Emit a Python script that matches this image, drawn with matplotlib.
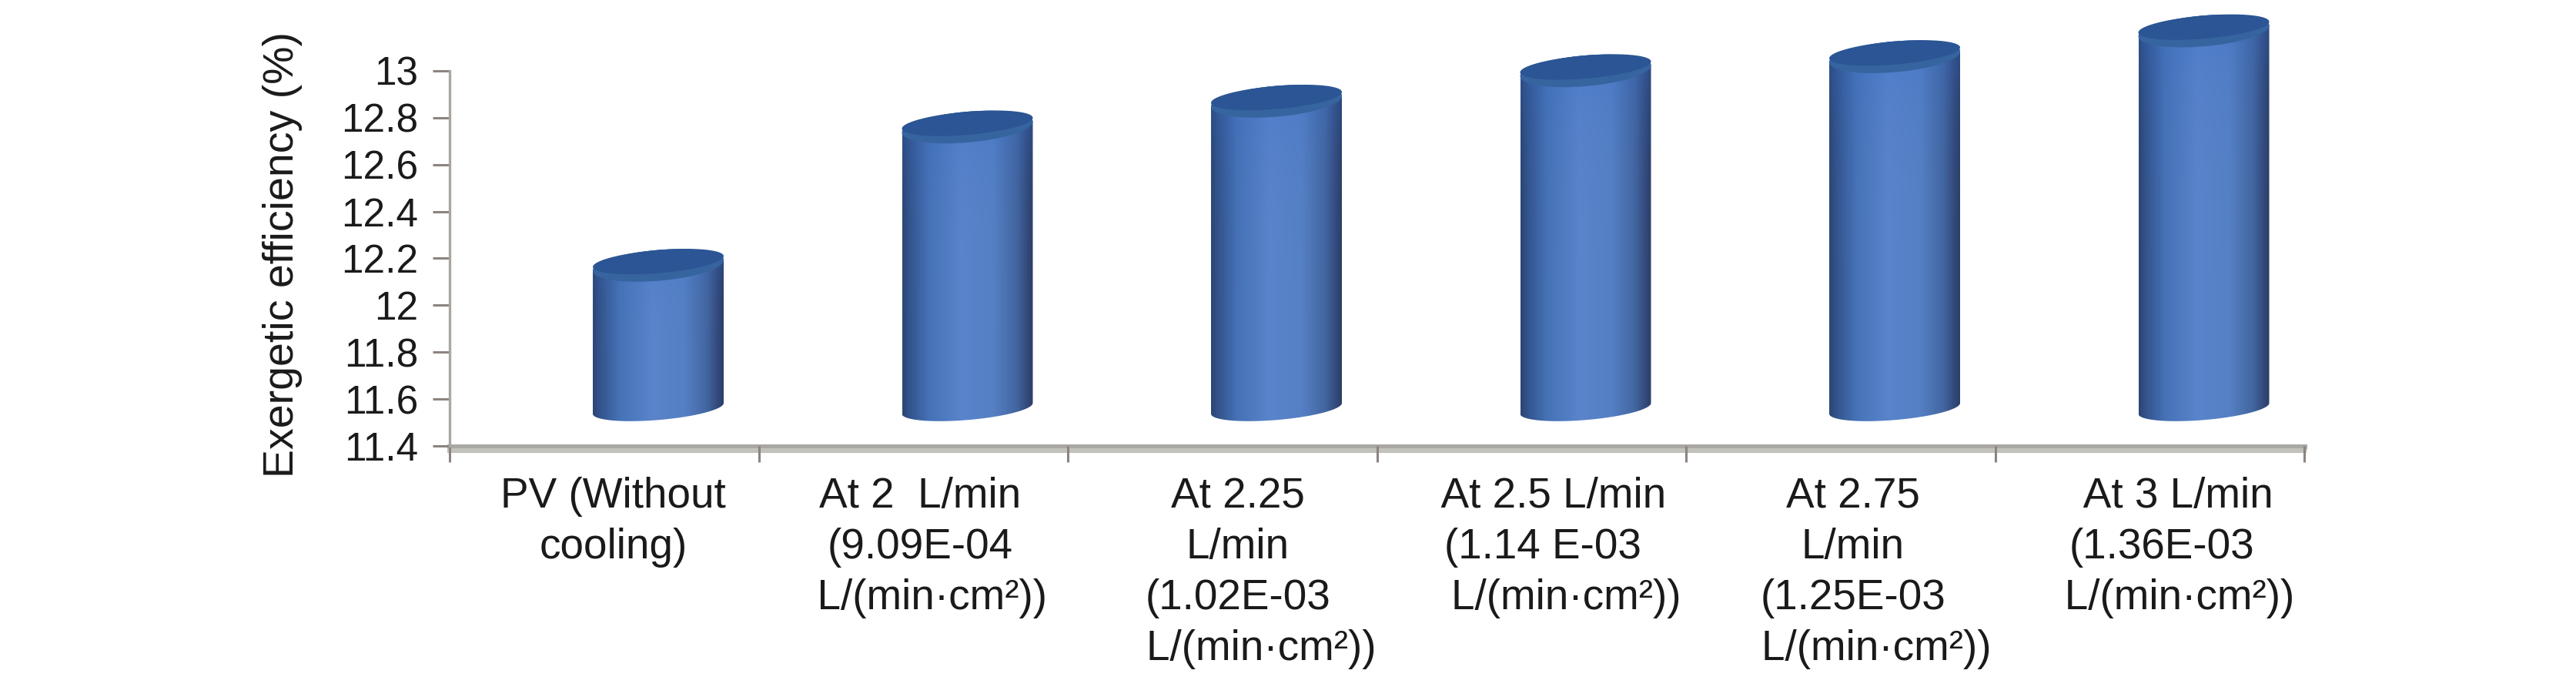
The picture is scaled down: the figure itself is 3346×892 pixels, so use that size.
"""Exergetic efficiency of the PV module at several cooling flow rates,
drawn as pseudo 3D cylinders."""

import numpy as np
import matplotlib
matplotlib.use('Agg')
import matplotlib.pyplot as plt
from matplotlib.colors import LinearSegmentedColormap
from matplotlib.patches import PathPatch
from matplotlib.path import Path

plt.rcParams['font.family'] = ['Liberation Sans', 'DejaVu Sans']

# ── Data ──────────────────────────────────────────────────────────────────────
categories = [
    'PV (Without\ncooling)',
    'At 2  L/min\n(9.09E-04\n  L/(min\u00b7cm\u00b2))',
    'At 2.25\nL/min\n(1.02E-03\n    L/(min\u00b7cm\u00b2))',
    '  At 2.5 L/min\n(1.14 E-03\n    L/(min\u00b7cm\u00b2))',
    'At 2.75\nL/min\n(1.25E-03\n    L/(min\u00b7cm\u00b2))',
    '   At 3 L/min\n(1.36E-03\n   L/(min\u00b7cm\u00b2))',
]
efficiency = [12.17, 12.76, 12.87, 13.00, 13.06, 13.17]
y_ticks = [11.4, 11.6, 11.8, 12, 12.2, 12.4, 12.6, 12.8, 13]
y_tick_labels = ['11.4', '11.6', '11.8', '12', '12.2', '12.4', '12.6', '12.8', '13']

# ── Layout (pixels of the 3346x892 canvas) ────────────────────────────────────
W, H = 3346, 892
AX_L, AX_R, AX_BOT, AX_TOP = 584, 2993, 579, 5
Y_MIN = 11.4
Y_MAX = Y_MIN + (AX_BOT - AX_TOP) / 304.4
PX_X = (AX_R - AX_L) / 6      # px per category
PX_Y = 304.4                  # px per percent

BASE = 11.56                  # the columns stand behind the axis plane
BAR_SHIFT = 0.175             # depth offset to the right
BAR_HALF = 85 / PX_X
CAP_B, CAP_S = 20, 7
FOOT_B, FOOT_S = 15, 7
LABEL_NUDGE = [12, 9, 20, 15, 16, 16]

body_cmap = LinearSegmentedColormap.from_list('body', [
    (0.00, '#2c4674'), (0.06, '#34558f'), (0.20, '#4672b6'), (0.45, '#5a84cb'),
    (0.70, '#5580c4'), (0.88, '#42659f'), (0.96, '#33497a'), (1.00, '#2b3f68')])


def ring(xc, yc, b_px, s_px, t):
    """Slanted ellipse points, left side lower than the right side."""
    x = xc + BAR_HALF * np.cos(t)
    y = yc + (b_px * np.sin(t) + s_px * np.cos(t)) / PX_Y
    return x, y


def draw_cylinder(ax, xc, value):
    t_front = np.linspace(np.pi, 2 * np.pi, 60)
    t_all = np.linspace(0, 2 * np.pi, 120)

    # silhouette: up the left side, along the back of the cap, round the base
    xb, yb = ring(xc, BASE, FOOT_B, FOOT_S, t_front)
    xt, yt = ring(xc, value, CAP_B, CAP_S, np.linspace(0, np.pi, 60))
    verts = np.vstack([np.column_stack([xb, yb]), np.column_stack([xt, yt]),
                       [[xb[0], yb[0]]]])
    clip = PathPatch(Path(verts), transform=ax.transData, fc='none', ec='none')
    ax.add_patch(clip)

    # horizontal shading, a little more saturated near the foot
    shade = body_cmap(np.linspace(0, 1, 200))[:, :3]
    rows = np.linspace(0, 1, 120)[:, None, None]
    foot = np.array([0.20, 0.42, 0.78])[None, None, :]
    img = shade[None, :, :] * (1 - 0.35 * rows ** 6) + foot * 0.35 * rows ** 6
    ymin, ymax = verts[:, 1].min(), verts[:, 1].max()
    im = ax.imshow(img, extent=(xc - BAR_HALF, xc + BAR_HALF, ymax, ymin),
                   origin='upper', aspect='auto', interpolation='bilinear', zorder=2)
    im.set_clip_path(clip)

    # cap: dark rim with a lighter front
    x_cap, y_cap = ring(xc, value, CAP_B, CAP_S, t_all)
    ax.fill(x_cap, y_cap, color='#36649f', lw=0, zorder=3)
    x_in, y_in = ring(xc, value + 5 / PX_Y, CAP_B - 5, CAP_S, t_all)
    ax.fill(x_in, y_in, color='#2b5594', lw=0, zorder=3)


fig = plt.figure(figsize=(W / 100, H / 100), dpi=100, facecolor='white')
ax = fig.add_axes([AX_L / W, 1 - AX_BOT / H, (AX_R - AX_L) / W, (AX_BOT - AX_TOP) / H])

for i, v in enumerate(efficiency):
    draw_cylinder(ax, i + 0.5 + BAR_SHIFT, v)

ax.set_xlim(0, len(categories))
ax.set_ylim(Y_MIN, Y_MAX)

for side in ('top', 'right'):
    ax.spines[side].set_visible(False)
ax.spines['left'].set_bounds(Y_MIN, 13)
ax.spines['left'].set_color('#aaa6a2')
ax.spines['left'].set_linewidth(2.4)
ax.spines['bottom'].set_visible(False)

# two tone floor line
ax.axhline(Y_MIN - 1 / PX_Y, color='#a9a7a2', lw=5, clip_on=False, zorder=1)
ax.axhline(Y_MIN - 6 / PX_Y, color='#c2c1bc', lw=4.5, clip_on=False, zorder=1)

ax.set_yticks(y_ticks)
ax.set_yticklabels(y_tick_labels)
ax.tick_params(axis='y', length=15.5, width=2.2, color='#8c8480', labelsize=37,
               pad=14, labelcolor='#1a1a1a')
ax.set_xticks(range(len(categories) + 1))
ax.set_xticklabels([])
ax.tick_params(axis='x', length=15, width=2.2, color='#8c8480')

for i, label in enumerate(categories):
    ax.annotate(label, xy=(i + 0.5, 0), xycoords=ax.get_xaxis_transform(),
                xytext=(LABEL_NUDGE[i] * 0.72, -29), textcoords='offset points',
                ha='center', va='top', multialignment='center',
                fontsize=39.5, linespacing=1.35, color='#1a1a1a')

ax.set_ylabel('Exergetic efficiency (%)', fontsize=40, color='#1a1a1a')
ax.yaxis.set_label_coords((393 - AX_L) / (AX_R - AX_L), (AX_BOT - 330) / (AX_BOT - AX_TOP))

fig.savefig('out.png', dpi=100, facecolor='white')
